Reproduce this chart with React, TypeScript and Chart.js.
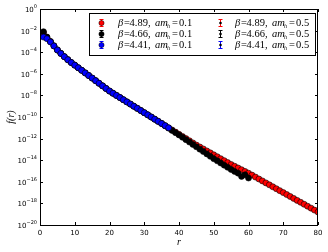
import React, { useEffect, useRef } from "react";
import { Chart, registerables } from "chart.js";

Chart.register(...registerables);

// r values (separation)
const rValues = [
  1, 2, 3, 4, 5, 6, 7, 8, 9, 10, 11, 12, 13, 14, 15, 16, 17, 18, 19, 20,
  21, 22, 23, 24, 25, 26, 27, 28, 29, 30, 31, 32, 33, 34, 35, 36, 37, 38, 39, 40,
  41, 42, 43, 44, 45, 46, 47, 48, 49, 50, 51, 52, 53, 54, 55, 56, 57, 58, 59, 60,
  61, 62, 63, 64, 65, 66, 67, 68, 69, 70, 71, 72, 73, 74, 75, 76, 77, 78, 79, 80,
];

// log10 f(r)
const logRed = [
  -2.2, -2.62, -3.02, -3.42, -3.8, -4.12, -4.42, -4.7, -4.96, -5.2,
  -5.44, -5.68, -5.92, -6.16, -6.4, -6.64, -6.88, -7.12, -7.36, -7.6,
  -7.8, -8.0, -8.2, -8.4, -8.6, -8.8, -9.0, -9.2, -9.4, -9.6,
  -9.8, -10.0, -10.2, -10.4, -10.6, -10.8, -11.0, -11.2, -11.4, -11.6,
  -11.8, -12.0, -12.2, -12.4, -12.6, -12.78, -12.96, -13.14, -13.32, -13.5,
  -13.68, -13.86, -14.04, -14.22, -14.4, -14.56, -14.72, -14.88, -15.04, -15.2,
  -15.38, -15.56, -15.74, -15.92, -16.1, -16.28, -16.46, -16.64, -16.82, -17.0,
  -17.18, -17.36, -17.54, -17.72, -17.9, -18.08, -18.26, -18.44, -18.62, -18.8,
];
const logBlack = [
  -2.1, -2.6, -3.0, -3.4, -3.78, -4.1, -4.4, -4.68, -4.95, -5.19,
  -5.43, -5.67, -5.91, -6.15, -6.39, -6.63, -6.87, -7.11, -7.35, -7.59,
  -7.8, -8.0, -8.2, -8.4, -8.6, -8.8, -9.0, -9.2, -9.4, -9.6,
  -9.8, -10.0, -10.2, -10.4, -10.6, -10.82, -11.03, -11.24, -11.45, -11.66,
  -11.88, -12.1, -12.32, -12.54, -12.76, -12.98, -13.2, -13.42, -13.64, -13.86,
  -14.06, -14.26, -14.46, -14.66, -14.86, -15.04, -15.2, -15.5, -15.35, -15.65,
];
const logBlue = [
  -2.6, -2.75, -3.05, -3.42, -3.8, -4.12, -4.42, -4.7, -4.96, -5.2,
  -5.44, -5.68, -5.92, -6.16, -6.4, -6.64, -6.88, -7.12, -7.36, -7.6,
  -7.8, -8.0, -8.2, -8.4, -8.6, -8.8, -9.0, -9.2, -9.4, -9.6,
  -9.8, -10.0, -10.2, -10.4, -10.6, -10.8, -11.0,
];

const betas = ["4.89", "4.66", "4.41"];
const amhValues = ["0.1", "0.5"];
const seriesColors = ["#ff0000", "#000000", "#0000ff"];

const xTicks = [0, 10, 20, 30, 40, 50, 60, 70, 80];
const yTickExponents = [0, -2, -4, -6, -8, -10, -12, -14, -16, -18, -20];

const toPoints = (logs: number[]) =>
  logs.map((v, i) => ({ x: rValues[i], y: Math.pow(10, v) }));

const SANS = '"DejaVu Sans", sans-serif';
const SERIF = '"Liberation Serif", "DejaVu Serif", serif';

const decorPlugin = {
  id: "decor",
  afterDraw(chart: any) {
    const ctx = chart.ctx as CanvasRenderingContext2D;
    const { left, right, top, bottom } = chart.chartArea;
    const xs = chart.scales.x;
    const ys = chart.scales.y;
    ctx.save();
    // frame
    ctx.strokeStyle = "#000";
    ctx.lineWidth = 1;
    ctx.strokeRect(left + 0.5, top + 0.5, right - left - 1, bottom - top);
    // ticks
    const tl = 3;
    ctx.beginPath();
    xTicks.forEach((t) => {
      const px = Math.round(xs.getPixelForValue(t)) + 0.5;
      ctx.moveTo(px, bottom);
      ctx.lineTo(px, bottom - tl);
      ctx.moveTo(px, top);
      ctx.lineTo(px, top + tl);
    });
    yTickExponents.forEach((e) => {
      const py = Math.round(ys.getPixelForValue(Math.pow(10, e))) + 0.5;
      ctx.moveTo(left, py);
      ctx.lineTo(left + tl, py);
      ctx.moveTo(right, py);
      ctx.lineTo(right - tl, py);
    });
    ctx.stroke();

    // x tick labels
    ctx.fillStyle = "#000";
    ctx.font = `7px ${SANS}`;
    ctx.textAlign = "center";
    ctx.textBaseline = "alphabetic";
    xTicks.forEach((t) => {
      const px = xs.getPixelForValue(t);
      ctx.fillText(String(t), px, bottom + 10);
    });
    // y tick labels 10^e
    yTickExponents.forEach((e) => {
      const py = ys.getPixelForValue(Math.pow(10, e));
      const expStr = e === 0 ? "0" : "\u2212" + String(-e);
      ctx.font = `5px ${SANS}`;
      const ew = ctx.measureText(expStr).width;
      ctx.textAlign = "right";
      ctx.fillText(expStr, left - 3, py - 1);
      ctx.font = `7px ${SANS}`;
      ctx.fillText("10", left - 3 - ew, py + 3);
    });

    // axis titles
    ctx.font = `italic 10px ${SERIF}`;
    ctx.textAlign = "center";
    ctx.fillText("r", (left + right) / 2, 245);
    ctx.save();
    ctx.translate(14, (top + bottom) / 2);
    ctx.rotate(-Math.PI / 2);
    ctx.fillText("f(r)", 0, 0);
    ctx.restore();

    // legend
    const bx = 89.5, by = 13.5, bw = 226, bh = 42;
    ctx.fillStyle = "#fff";
    ctx.fillRect(bx, by, bw, bh);
    ctx.strokeStyle = "#000";
    ctx.strokeRect(bx, by, bw, bh);
    const rowsY = [23, 34, 45];
    const cols = [
      { icon: 101, text: 118, big: true, amh: amhValues[0] },
      { icon: 220, text: 235, big: false, amh: amhValues[1] },
    ];
    cols.forEach((c) => {
      betas.forEach((b, i) => {
        const y = rowsY[i];
        const col = seriesColors[i];
        // error bar icon
        ctx.strokeStyle = col;
        ctx.lineWidth = 1;
        ctx.beginPath();
        ctx.moveTo(c.icon + 0.5, y - 4);
        ctx.lineTo(c.icon + 0.5, y + 4);
        ctx.moveTo(c.icon - 1.5, y - 4 + 0.5);
        ctx.lineTo(c.icon + 2.5, y - 4 + 0.5);
        ctx.moveTo(c.icon - 1.5, y + 4 - 0.5);
        ctx.lineTo(c.icon + 2.5, y + 4 - 0.5);
        ctx.stroke();
        ctx.beginPath();
        ctx.arc(c.icon + 0.5, y, c.big ? 2.6 : 1.3, 0, Math.PI * 2);
        ctx.fillStyle = c.big ? col : "#000";
        ctx.fill();
        if (c.big) {
          ctx.lineWidth = 0.5;
          ctx.strokeStyle = "#000";
          ctx.stroke();
        }
        // text with subscript, laid out like mathtext
        const base = y + 3;
        const x0 = c.text;
        ctx.fillStyle = "#000";
        ctx.textAlign = "left";
        const segs: [string, string, number, number][] = [
          ["\u03b2", `italic 10.5px ${SERIF}`, 0, 0],
          ["=", `10.5px ${SERIF}`, 6, 0],
          [b + ",", `10.5px ${SERIF}`, 11.5, 0],
          ["am", `italic 10.5px ${SERIF}`, 37, 0],
          ["h", `italic 6px ${SERIF}`, 49, 2],
          ["=", `10.5px ${SERIF}`, 54, 0],
          [c.amh, `10.5px ${SERIF}`, 61, 0],
        ];
        segs.forEach(([t, f, dx, dy]) => {
          ctx.font = f;
          ctx.fillText(t, x0 + dx, base + dy);
        });
      });
    });
    ctx.restore();
  },
};

export default function App() {
  const ref = useRef<HTMLCanvasElement | null>(null);
  useEffect(() => {
    document.body.style.margin = "0";
    const canvas = ref.current;
    if (!canvas) return;
    const mk = (label: string, logs: number[], color: string, order: number) => ({
      label,
      data: toPoints(logs),
      backgroundColor: color,
      borderColor: "#000",
      pointBorderColor: "#000",
      pointBackgroundColor: color,
      pointBorderWidth: 0.6,
      pointRadius: 3,
      showLine: false,
      clip: 0,
      order,
    });
    const chart = new Chart(canvas, {
      type: "scatter",
      data: {
        datasets: [
          mk(`β=${betas[0]}, am_h=${amhValues[0]}`, logRed, seriesColors[0], 3),
          mk(`β=${betas[1]}, am_h=${amhValues[0]}`, logBlack, seriesColors[1], 2),
          mk(`β=${betas[2]}, am_h=${amhValues[0]}`, logBlue, seriesColors[2], 1),
        ],
      },
      options: {
        animation: false,
        responsive: false,
        devicePixelRatio: 1,
        events: [],
        layout: { padding: { left: 40, right: 10, top: 9, bottom: 27 } },
        plugins: { legend: { display: false }, tooltip: { enabled: false } },
        scales: {
          x: { type: "linear", min: 0, max: 80, display: false },
          y: { type: "logarithmic", min: 1e-20, max: 1, display: false },
        },
      },
      plugins: [decorPlugin],
    });
    return () => chart.destroy();
  }, []);
  return (
    <div style={{ width: 328, height: 252, background: "#fff" }}>
      <canvas ref={ref} width={328} height={252} style={{ display: "block" }} />
    </div>
  );
}
